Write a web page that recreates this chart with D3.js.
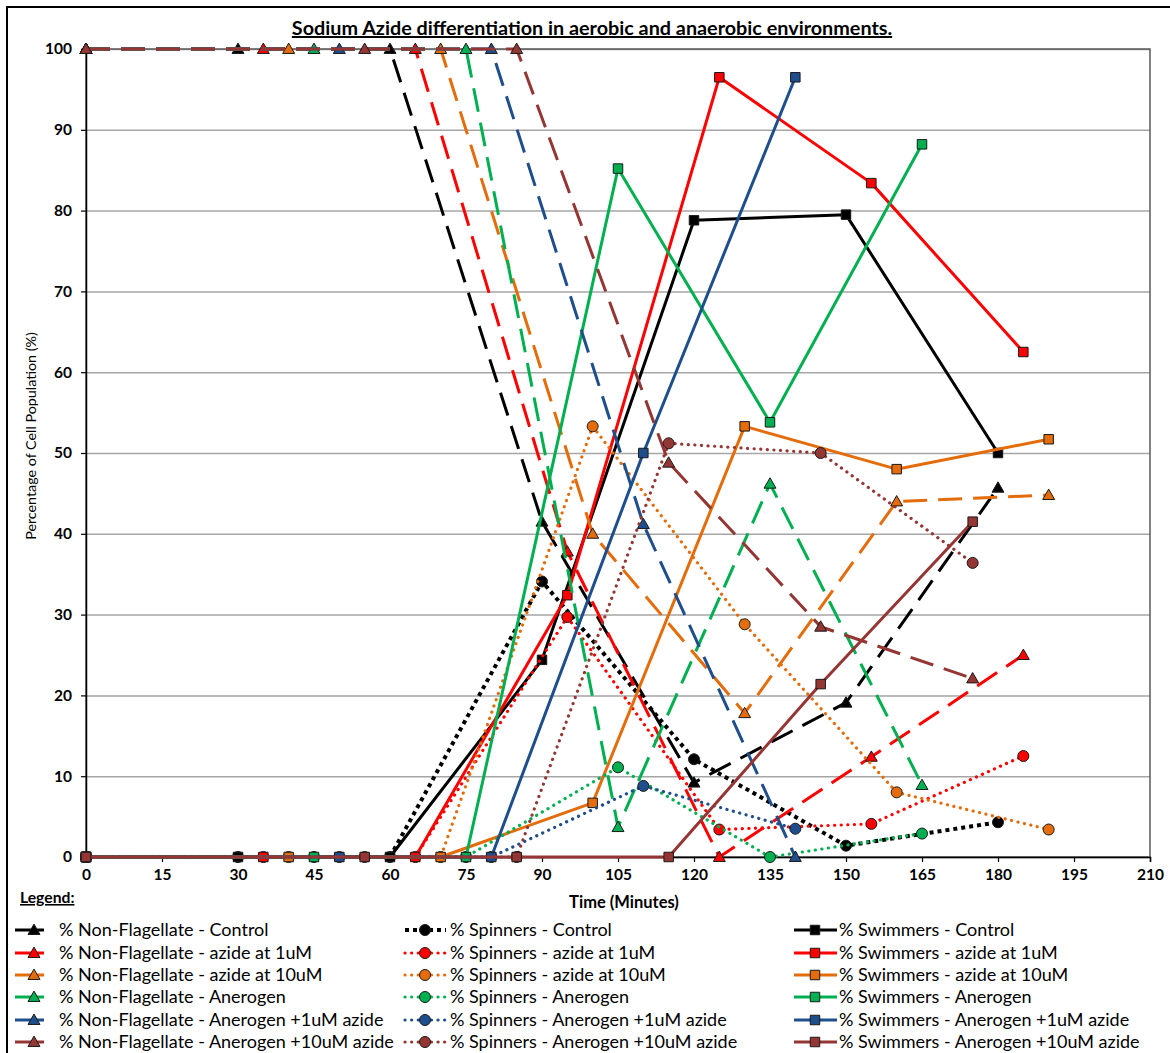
<!DOCTYPE html>
<html>
<head>
<meta charset="utf-8">
<script src="https://cdn.jsdelivr.net/npm/d3@7"></script>
<style>
  html, body { margin: 0; padding: 0; background: #fff; }
  svg { display: block; font-family: Lato, "Open Sans", sans-serif; }
</style>
</head>
<body>
<svg id="chart" width="1170" height="1053"></svg>
<script>
// Sampling times (minutes) for each condition
const timeControl  = [0, 30, 60, 90, 120, 150, 180];
const timeAzide1   = [0, 35, 65, 95, 125, 155, 185];
const timeAzide10  = [0, 40, 70, 100, 130, 160, 190];
const timeAner     = [0, 45, 75, 105, 135, 165];
const timeAner1    = [0, 50, 80, 110, 140];
const timeAner10   = [0, 55, 85, 115, 145, 175];

// % Non-Flagellate
const nonFlagControl = [100, 100, 100, 41.5, 9.2, 19.1, 45.7];
const nonFlagAzide1  = [100, 100, 100, 37.8, 0, 12.4, 25.0];
const nonFlagAzide10 = [100, 100, 100, 40.0, 17.8, 44.0, 44.8];
const nonFlagAner    = [100, 100, 100, 3.7, 46.2, 8.9];
const nonFlagAner1   = [100, 100, 100, 41.2, 0];
const nonFlagAner10  = [100, 100, 100, 48.8, 28.5, 22.1];

// % Spinners
const spinControl = [0, 0, 0, 34.1, 12.1, 1.4, 4.3];
const spinAzide1  = [0, 0, 0, 29.7, 3.4, 4.1, 12.5];
const spinAzide10 = [0, 0, 0, 53.3, 28.8, 8.0, 3.4];
const spinAner    = [0, 0, 0, 11.1, 0, 2.9];
const spinAner1   = [0, 0, 0, 8.8, 3.5];
const spinAner10  = [0, 0, 0, 51.2, 50.0, 36.4];

// % Swimmers
const swimControl = [0, 0, 0, 24.4, 78.8, 79.5, 50.0];
const swimAzide1  = [0, 0, 0, 32.4, 96.5, 83.4, 62.5];
const swimAzide10 = [0, 0, 0, 6.7, 53.3, 48.0, 51.7];
const swimAner    = [0, 0, 0, 85.2, 53.8, 88.2];
const swimAner1   = [0, 0, 0, 50.0, 96.5];
const swimAner10  = [0, 0, 0, 0, 21.4, 41.5];

// Conditions and their colours
const conditions = ["Control", "azide at 1uM", "azide at 10uM", "Anerogen", "Anerogen +1uM azide", "Anerogen +10uM azide"];
const conditionColors = ["#000000", "#ff0000", "#e46c0a", "#00b050", "#1f4e8c", "#943634"];
const conditionTimes = [timeControl, timeAzide1, timeAzide10, timeAner, timeAner1, timeAner10];
const nonFlagValues = [nonFlagControl, nonFlagAzide1, nonFlagAzide10, nonFlagAner, nonFlagAner1, nonFlagAner10];
const spinValues = [spinControl, spinAzide1, spinAzide10, spinAner, spinAner1, spinAner10];
const swimValues = [swimControl, swimAzide1, swimAzide10, swimAner, swimAner1, swimAner10];

// Tick labels
const xTicks = d3.range(0, 211, 15);
const yTicks = d3.range(0, 101, 10);

const svg = d3.select("#chart");
const plotLeft = 86, plotRight = 1150, plotTop = 49, plotBottom = 857;

const x = d3.scaleLinear().domain([0, 210]).range([plotLeft, plotRight]);
const y = d3.scaleLinear().domain([0, 100]).range([plotBottom, plotTop]);

// outer frame
svg.append("rect")
  .attr("x", 7).attr("y", 7).attr("width", 1180).attr("height", 1070)
  .attr("fill", "#fff").attr("stroke", "#000").attr("stroke-width", 2);

// title
svg.append("text")
  .attr("x", 592).attr("y", 35)
  .attr("text-anchor", "middle")
  .attr("font-size", 19.8).attr("font-weight", "bold")
  .attr("text-decoration", "underline")
  .text("Sodium Azide differentiation in aerobic and anaerobic environments.");

// gridlines
svg.append("g")
  .attr("transform", `translate(${plotLeft},0)`)
  .call(d3.axisLeft(y).tickValues(yTicks).tickSize(-(plotRight - plotLeft)).tickFormat(""))
  .call(g => g.select(".domain").remove())
  .call(g => g.selectAll("line").attr("stroke", "#a6a6a6").attr("stroke-width", 1.5));

// plot area border
svg.append("rect")
  .attr("x", plotLeft).attr("y", plotTop).attr("width", plotRight - plotLeft).attr("height", plotBottom - plotTop)
  .attr("fill", "none").attr("stroke", "#595959").attr("stroke-width", 1.5);

// axes
const yAxis = svg.append("g")
  .attr("transform", `translate(${plotLeft},0)`)
  .call(d3.axisLeft(y).tickValues(yTicks).tickSize(5).tickPadding(9));
const xAxis = svg.append("g")
  .attr("transform", `translate(0,${plotBottom})`)
  .call(d3.axisBottom(x).tickValues(xTicks).tickSize(5).tickPadding(7));
[yAxis, xAxis].forEach(a => {
  a.select(".domain").attr("stroke", "#000").attr("stroke-width", 1.5);
  a.selectAll(".tick line").attr("stroke", "#000").attr("stroke-width", 1.2);
  a.selectAll("text").attr("font-size", 15.5).attr("font-weight", "bold")
    .attr("font-family", "Lato, 'Open Sans', sans-serif").attr("fill", "#000");
});

// axis titles
svg.append("text")
  .attr("transform", "translate(36,436) rotate(-90)")
  .attr("text-anchor", "middle").attr("font-size", 14.3)
  .text("Percentage of Cell Population (%)");
svg.append("text")
  .attr("x", 624).attr("y", 908)
  .attr("text-anchor", "middle").attr("font-size", 16.5).attr("font-weight", "bold")
  .text("Time (Minutes)");

// series styles
const kinds = [
  { name: "% Non-Flagellate", values: nonFlagValues, symbol: d3.symbolTriangle, size: 62, dash: () => "24,11", width: () => 3, cap: () => "butt" },
  { name: "% Spinners", values: spinValues, symbol: d3.symbolCircle, size: 95, dash: i => i === 0 ? "4,4" : "0.1,6.5", width: i => i === 0 ? 4 : 3.2, cap: i => i === 0 ? "butt" : "round" },
  { name: "% Swimmers", values: swimValues, symbol: d3.symbolSquare, size: 90, dash: () => null, width: () => 3, cap: () => "butt" }
];

const series = [];
conditions.forEach((c, i) => {
  kinds.forEach((k, j) => {
    series.push({
      label: `${k.name} - ${c}`,
      color: conditionColors[i],
      points: conditionTimes[i].map((t, n) => ({ t, v: k.values[i][n] })),
      symbol: k.symbol, size: k.size,
      dash: k.dash(i), width: k.width(i), cap: k.cap(i),
      row: i, col: j
    });
  });
});

const line = d3.line().x(d => x(d.t)).y(d => y(d.v));
const plot = svg.append("g");

series.forEach(s => {
  const g = plot.append("g");
  g.append("path")
    .datum(s.points)
    .attr("d", line)
    .attr("fill", "none")
    .attr("stroke", s.color)
    .attr("stroke-width", s.width)
    .attr("stroke-dasharray", s.dash)
    .attr("stroke-linecap", s.cap)
    .attr("stroke-linejoin", "round");
  g.selectAll("path.m")
    .data(s.points)
    .join("path")
    .attr("class", "m")
    .attr("transform", d => `translate(${x(d.t)},${y(d.v) + (s.symbol === d3.symbolTriangle ? 1 : 0)})`)
    .attr("d", d3.symbol(s.symbol, s.size))
    .attr("fill", s.color)
    .attr("stroke", "#1a1a1a")
    .attr("stroke-width", 1);
});

// legend
svg.append("text")
  .attr("x", 20).attr("y", 903)
  .attr("font-size", 15.7).attr("font-weight", "bold")
  .attr("text-decoration", "underline")
  .text("Legend:");

const legendRows = [930, 953, 975, 997, 1020, 1042];
const legendCols = [
  { x0: 15, x1: 44, cx: 34, tx: 59 },
  { x0: 405, x1: 446, cx: 425, tx: 450 },
  { x0: 794, x1: 837, cx: 815, tx: 839 }
];

const legend = svg.append("g");
series.forEach(s => {
  const c = legendCols[s.col];
  const yy = legendRows[s.row];
  legend.append("line")
    .attr("x1", c.x0).attr("x2", c.x1).attr("y1", yy).attr("y2", yy)
    .attr("stroke", s.color).attr("stroke-width", s.width)
    .attr("stroke-dasharray", s.col === 0 ? null : s.dash)
    .attr("stroke-linecap", s.cap);
  legend.append("path")
    .attr("transform", `translate(${c.cx},${yy + (s.symbol === d3.symbolTriangle ? 1 : 0)})`)
    .attr("d", d3.symbol(s.symbol, s.size))
    .attr("fill", s.color).attr("stroke", "#1a1a1a").attr("stroke-width", 1);
  legend.append("text")
    .attr("x", c.tx).attr("y", yy)
    .attr("dy", "0.35em")
    .attr("font-size", 18)
    .text(s.label);
});
</script>
</body>
</html>
